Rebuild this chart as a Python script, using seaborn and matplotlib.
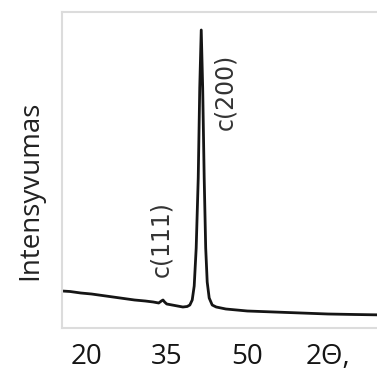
import matplotlib
matplotlib.use("Agg")
import matplotlib.pyplot as plt
import seaborn as sns
import pandas as pd

# 2-theta (degrees) and intensity (arb. units)
two_theta = [15.5, 17.0, 19.0, 21.0, 23.0, 25.0, 27.0, 29.0, 31.0, 32.5,
             33.5, 34.0, 34.3, 34.6, 35.0, 36.0, 37.0, 38.0, 38.8, 39.3,
             39.74, 40.11, 40.48, 40.86, 41.14, 41.42, 41.69, 41.97, 42.25,
             42.53, 42.9, 43.46, 44.2, 46.0, 50.0, 55.0, 60.0, 65.0, 70.0, 76.0]
intensity = [37, 36.5, 35, 34, 32.5, 31, 29.5, 28, 27, 26,
             25, 27, 28, 26, 24, 23, 22, 21, 21.5, 23,
             28, 42, 80, 150, 240, 298, 240, 150, 80,
             46, 30, 23, 21, 19, 17, 16, 15, 14, 13.5, 13]

tick_pos = [20, 35, 50, 65]
tick_labels = ["20", "35", "50", "2Θ,"]
y_label = "Intensyvumas"
peak_labels = ["c(111)", "c(200)"]
peak_label_x = [34.0, 45.9]
peak_label_y = [89, 236]

df = pd.DataFrame({"two_theta": two_theta, "intensity": intensity})

sns.set_theme(style="white")
plt.rcParams["font.family"] = ["Open Sans", "DejaVu Sans"]

W, H = 377, 372
fig = plt.figure(figsize=(W / 100, H / 100), dpi=100)
fig.patch.set_facecolor("white")
ax = fig.add_axes([62 / W, 44 / H, 325 / W, 316 / H])

sns.lineplot(data=df, x="two_theta", y="intensity", ax=ax,
             color="#151515", linewidth=2.0, estimator=None, sort=False)

ax.set_xlim(15.5, 76)
ax.set_ylim(0, 316)
ax.set_xticks(tick_pos)
ax.set_xticklabels(tick_labels, fontsize=20, color="#151515")
ax.set_yticks([])
ax.tick_params(axis="x", length=0, pad=11)
ax.set_xlabel("")
ax.set_ylabel(y_label, fontsize=20, color="#222222")
ax.yaxis.label.set_va("center")
ax.yaxis.set_label_coords(-0.098, 0.437)

for s in ["left", "top", "bottom", "right"]:
    ax.spines[s].set_color("#dcdcdc")
    ax.spines[s].set_linewidth(1.5)

for lab, lx, ly in zip(peak_labels, peak_label_x, peak_label_y):
    ax.text(lx, ly, lab, rotation=90, ha="center", va="center",
            fontsize=17, color="#333333", family=["DejaVu Sans"])

fig.savefig("out.png", dpi=100)
